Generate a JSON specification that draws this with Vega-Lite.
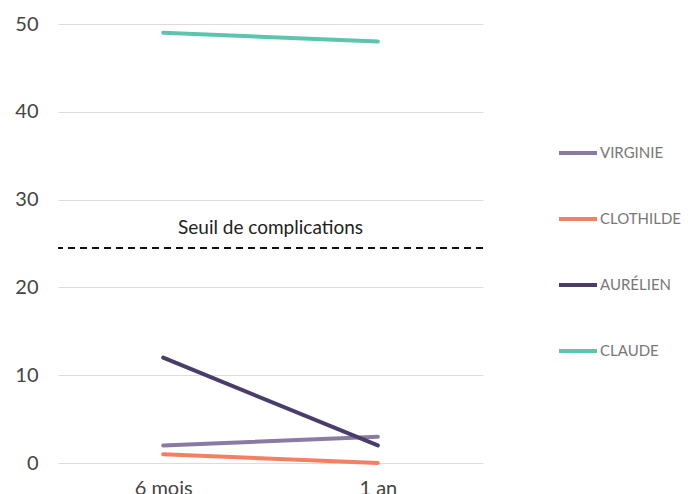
{
  "$schema": "https://vega.github.io/schema/vega-lite/v6.json",
  "width": 425,
  "height": 439,
  "autosize": "none",
  "padding": {"left": 58, "top": 24, "right": 205, "bottom": 31},
  "config": {
    "view": {"stroke": null},
    "font": "Lato",
    "axis": {"labelFont": "Lato", "labelColor": "#444", "labelFontSize": 20, "domain": false, "ticks": false, "title": null, "gridColor": "#dddddd", "gridWidth": 1}
  },
  "datasets": {
    "scores": [
      {"periode": "6 mois", "patient": "Virginie", "score": 2},
      {"periode": "1 an", "patient": "Virginie", "score": 3},
      {"periode": "6 mois", "patient": "Clothilde", "score": 1},
      {"periode": "1 an", "patient": "Clothilde", "score": 0},
      {"periode": "6 mois", "patient": "Aurélien", "score": 12},
      {"periode": "1 an", "patient": "Aurélien", "score": 2},
      {"periode": "6 mois", "patient": "Claude", "score": 49},
      {"periode": "1 an", "patient": "Claude", "score": 48}
    ],
    "seuil": [{"valeur": 24.5, "label": "Seuil de complications", "pos": 26.8}]
  },
  "layer": [
    {
      "data": {"name": "scores"},
      "mark": {"type": "line", "strokeWidth": 4, "strokeCap": "round"},
      "encoding": {
        "x": {"field": "periode", "type": "ordinal", "sort": ["6 mois", "1 an"], "scale": {"type": "point", "padding": 0.49},
              "axis": {"labelAngle": 0, "labelPadding": 15, "grid": false}},
        "y": {"field": "score", "type": "quantitative", "scale": {"domain": [0, 50], "nice": false},
              "axis": {"values": [0, 10, 20, 30, 40, 50], "labelPadding": 20, "labelBaseline": "middle"}},
        "color": {"field": "patient", "type": "nominal",
                  "scale": {"domain": ["Virginie", "Clothilde", "Aurélien", "Claude"], "range": ["#8a7ba3", "#f47f63", "#4a3d6a", "#5cc5ae"]},
                  "legend": {"title": null, "orient": "none", "legendX": 499, "legendY": 108, "symbolType": "stroke", "symbolSize": 1444, "symbolStrokeWidth": 4,
                             "labelExpr": "upper(datum.label)", "labelFontSize": 15, "labelColor": "#777", "labelFont": "Lato", "labelOffset": 1, "rowPadding": 37}}
      }
    },
    {
      "data": {"name": "seuil"},
      "mark": {"type": "rule", "strokeDash": [7, 5], "strokeWidth": 2, "color": "#111"},
      "encoding": {"y": {"field": "valeur", "type": "quantitative"}}
    },
    {
      "data": {"name": "seuil"},
      "mark": {"type": "text", "fontSize": 19, "color": "#222", "font": "Lato", "align": "center", "baseline": "middle"},
      "encoding": {"y": {"field": "pos", "type": "quantitative"}, "text": {"field": "label"}}
    }
  ]
}
